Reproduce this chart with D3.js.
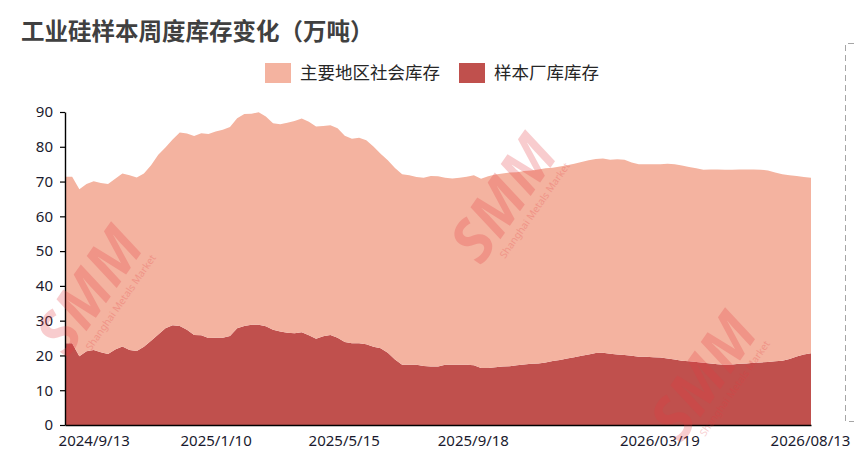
<!DOCTYPE html>
<html>
<head>
<meta charset="utf-8">
<script src="https://cdn.jsdelivr.net/npm/d3@7"></script>
<style>
  body { margin: 0; background: #fff; }
  #graph svg { display: block; }
</style>
</head>
<body>
<div id="graph"></div>
<script>

// weekly series, first week 2024/8/16 (万吨)
const firstWeek = '2024/8/16';

// 主要地区社会库存
const socialStock = [
    47.9, 47.9, 48.0, 48.1, 48.5, 48.7, 48.9, 49.1, 49.7, 50.2,
    49.9, 49.8, 50.5, 51.7, 52.0, 53.4, 55.6, 56.4, 57.2, 58.1,
    58.7, 59.3, 59.8, 60.1, 60.4, 60.9, 60.7, 61.1, 60.3, 59.4,
    59.6, 60.4, 61.0, 61.4, 61.4, 61.0, 60.5, 60.3, 60.2, 59.3,
    58.8, 59.1, 58.7, 57.6, 55.9, 55.3, 55.1, 54.8, 54.5, 54.0,
    54.1, 54.8, 54.7, 53.8, 53.6, 53.8, 54.1, 54.6, 54.4, 55.1,
    55.4, 55.5, 55.7, 55.5, 55.6, 55.6, 55.8, 55.8, 55.6, 55.6,
    55.6, 55.6, 55.7, 55.8, 55.8, 55.8, 55.8, 56.1, 56.2, 55.6,
    55.4, 55.4, 55.5, 55.6, 56.0, 56.2, 56.1, 55.9, 55.7, 55.5,
    55.8, 56.0, 56.1, 56.0, 55.9, 55.8, 55.6, 55.4, 55.1, 54.3,
    53.6, 52.8, 51.9, 51.0, 50.5
];

// 样本厂库库存
const factoryStock = [
    23.5, 23.5, 19.8, 21.2, 21.6, 20.9, 20.4, 21.7, 22.6, 21.6,
    21.3, 22.5, 24.2, 26.0, 27.8, 28.7, 28.5, 27.4, 25.9, 25.8,
    25.0, 25.1, 25.1, 25.6, 27.8, 28.5, 28.8, 28.8, 28.4, 27.4,
    26.9, 26.5, 26.4, 26.7, 25.8, 24.8, 25.5, 25.9, 25.1, 23.9,
    23.5, 23.5, 23.2, 22.5, 22.1, 20.8, 18.8, 17.3, 17.3, 17.3,
    17.0, 16.8, 16.8, 17.3, 17.3, 17.3, 17.3, 17.2, 16.4, 16.4,
    16.6, 16.8, 16.9, 17.2, 17.4, 17.6, 17.7, 18.0, 18.4, 18.7,
    19.1, 19.5, 19.9, 20.3, 20.7, 20.8, 20.5, 20.3, 20.1, 19.9,
    19.6, 19.6, 19.5, 19.4, 19.1, 18.8, 18.5, 18.3, 18.1, 17.9,
    17.7, 17.5, 17.3, 17.4, 17.6, 17.7, 17.9, 18.0, 18.1, 18.3,
    18.5, 19.0, 19.7, 20.3, 20.6
];

const tickLabels = ['2024/9/13', '2025/1/10', '2025/5/15', '2025/9/18', '2026/03/19', '2026/08/13'];
const yTicks = [0, 10, 20, 30, 40, 50, 60, 70, 80, 90];
const seriesKeys = ['factory', 'social'];
const seriesNames = {social: '主要地区社会库存', factory: '样本厂库库存'};
const legendOrder = ['social', 'factory'];

const colors = {social: '#F4B3A0', factory: '#C0504D'};
const fontLatin = "'Noto Sans', 'Open Sans', sans-serif";
const fontCJK = "'Noto Sans CJK SC', 'Noto Sans', sans-serif";

const W = 854, H = 454;
const margin = {top: 112, right: 43, bottom: 29, left: 65};
const width = W - margin.left - margin.right;
const height = H - margin.top - margin.bottom;

const parseDate = d3.timeParse('%Y/%m/%d');
const start = parseDate(firstWeek);
const weeks = socialStock.map((_, i) => d3.timeDay.offset(start, 7 * i));

const rows = weeks.map((date, i) => ({
    date,
    social: socialStock[i],
    factory: factoryStock[i]
}));

const svg = d3.select('#graph')
    .append('svg')
    .attr('width', W)
    .attr('height', H);

// title
svg.append('text')
    .attr('x', 21)
    .attr('y', 40)
    .style('font-family', fontCJK)
    .style('font-size', '23.5px')
    .style('font-weight', 'bold')
    .style('fill', '#404040')
    .text('工业硅样本周度库存变化（万吨）');

// legend
const legendPos = {social: 265, factory: 459};
legendOrder.forEach(key => {
    const g = svg.append('g').attr('transform', `translate(${legendPos[key]}, 63)`);
    g.append('rect')
        .attr('width', 26)
        .attr('height', 20)
        .attr('fill', colors[key]);
    g.append('text')
        .attr('x', 35)
        .attr('y', 16)
        .style('font-family', fontCJK)
        .style('font-size', '17.5px')
        .style('fill', '#262626')
        .text(seriesNames[key]);
});

// dashed frame of the neighbouring panel
svg.append('path')
    .attr('d', 'M854,43.5 H845.5 V421.5 H854')
    .attr('fill', 'none')
    .attr('stroke', '#a6a6a6')
    .attr('stroke-width', 1)
    .attr('stroke-dasharray', '6,4');

const chart = svg.append('g')
    .attr('transform', `translate(${margin.left}, ${margin.top})`);

const x = d3.scaleTime()
    .domain(d3.extent(weeks))
    .range([0, width]);

const y = d3.scaleLinear()
    .domain([0, 90])
    .range([height, 0]);

const stacked = d3.stack().keys(seriesKeys)(rows);

const area = d3.area()
    .x(d => x(d.data.date))
    .y0(d => y(d[0]))
    .y1(d => y(d[1]));

chart.selectAll('path.layer')
    .data(stacked)
    .enter()
    .append('path')
    .attr('class', 'layer')
    .attr('fill', d => colors[d.key])
    .attr('d', area);

// Y axis
const yAxis = chart.append('g')
    .call(d3.axisLeft(y).tickValues(yTicks).tickSize(5).tickSizeOuter(0).tickPadding(7));
yAxis.select('.domain').attr('stroke', '#000').attr('stroke-width', 1.4);
yAxis.selectAll('.tick line').attr('stroke', '#000').attr('stroke-width', 1.2);
yAxis.selectAll('text')
    .style('font-family', fontLatin)
    .style('font-size', '15px')
    .style('fill', '#1a1a2e');

// X axis
const tickDates = tickLabels.map(parseDate);
const xAxis = chart.append('g')
    .attr('transform', `translate(0, ${height})`)
    .call(d3.axisBottom(x)
        .tickValues(tickDates)
        .tickSize(0)
        .tickSizeOuter(0)
        .tickPadding(10)
        .tickFormat((d, i) => tickLabels[i]));
xAxis.select('.domain').attr('stroke', '#000').attr('stroke-width', 1.6);
xAxis.selectAll('text')
    .style('font-family', fontLatin)
    .style('font-size', '15px')
    .style('fill', '#1a1a2e');

// SMM watermarks
const marks = [[92, 292], [506, 200], [706, 378]];
marks.forEach(([cx, cy]) => {
    const g = svg.append('g')
        .attr('transform', `translate(${cx}, ${cy}) rotate(-55)`)
        .style('pointer-events', 'none');
    g.append('text')
        .attr('text-anchor', 'middle')
        .attr('y', 18)
        .style('font-family', fontLatin)
        .style('font-size', '60px')
        .style('font-weight', 'bold')
        .style('font-style', 'italic')
        .style('fill', '#e5393f')
        .style('opacity', 0.25)
        .text('SMM');
    g.append('text')
        .attr('text-anchor', 'middle')
        .attr('x', 8)
        .attr('y', 33)
        .style('font-family', fontLatin)
        .style('font-size', '10px')
        .style('fill', '#e5393f')
        .style('opacity', 0.25)
        .text('Shanghai Metals Market');
});

</script>
</body>
</html>
